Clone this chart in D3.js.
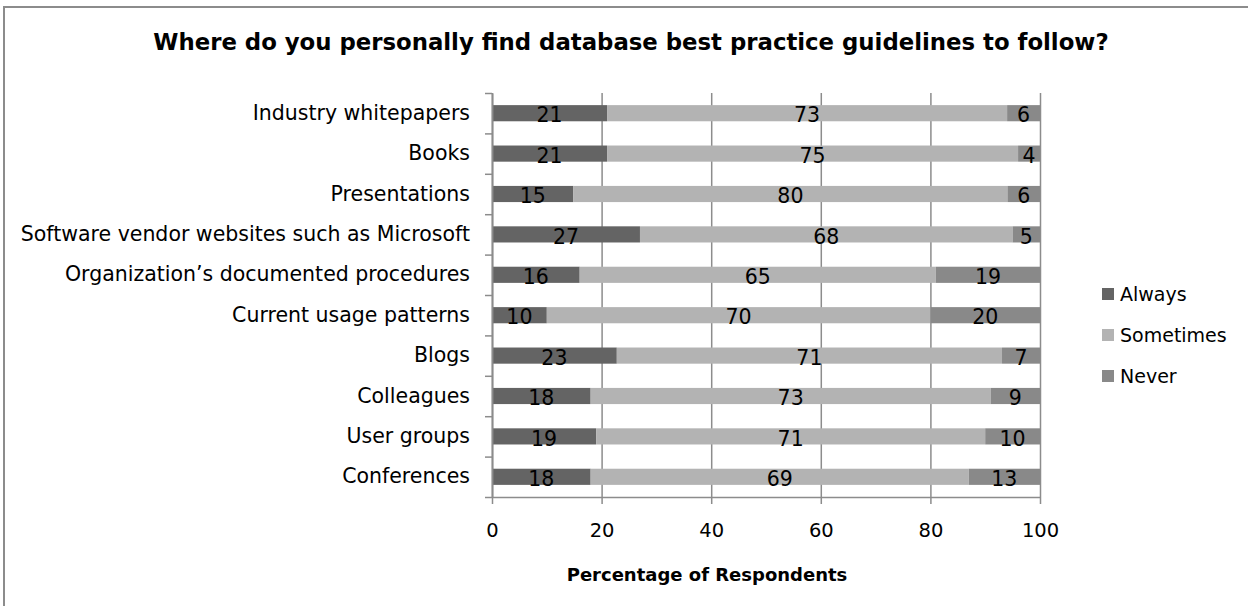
<!DOCTYPE html>
<html>
<head>
<meta charset="utf-8">
<script src="https://cdn.jsdelivr.net/npm/d3@7"></script>
<style>
  body { margin: 0; background: #fff; }
  svg { display: block; }
</style>
</head>
<body>
<svg id="chart"></svg>
<script>
const categories = [
  'Industry whitepapers',
  'Books',
  'Presentations',
  'Software vendor websites such as Microsoft',
  'Organization\u2019s documented procedures',
  'Current usage patterns',
  'Blogs',
  'Colleagues',
  'User groups',
  'Conferences'
];
const always    = [21, 21, 15, 27, 16, 10, 23, 18, 19, 18];
const sometimes = [73, 75, 80, 68, 65, 70, 71, 73, 71, 69];
const never     = [6, 4, 6, 5, 19, 20, 7, 9, 10, 13];
const seriesNames = ['Always', 'Sometimes', 'Never'];
const xTicks = [0, 20, 40, 60, 80, 100];

const colours = ['#646464', '#b3b3b3', '#898989'];
const font = '"DejaVu Sans", sans-serif';

const width = 1248, height = 606;
const plot = {left: 492, right: 1040, top: 93, bottom: 497};

const svg = d3.select('#chart')
  .attr('width', width)
  .attr('height', height);

// outer chart border
svg.append('rect')
  .attr('x', 4).attr('y', 7)
  .attr('width', width + 10).attr('height', height + 10)
  .attr('fill', 'none')
  .attr('stroke', '#8c8c8c')
  .attr('stroke-width', 2);

const rows = categories.map((c, i) => ({
  cat: c, Always: always[i], Sometimes: sometimes[i], Never: never[i]
}));

// 100% stacked, like excel
const stacked = d3.stack().keys(seriesNames).offset(d3.stackOffsetExpand)(rows);

const x = d3.scaleLinear().domain([0, 1]).range([plot.left, plot.right]);
const y = d3.scaleBand().domain(categories).range([plot.top, plot.bottom])
  .paddingInner(0.6).paddingOuter(0.3);
const yEdge = d3.scaleLinear().domain([0, categories.length]).range([plot.top, plot.bottom]);

// gridlines + x axis
svg.append('g')
  .attr('class', 'x axis')
  .attr('transform', 'translate(0,' + plot.bottom + ')')
  .call(d3.axisBottom(x)
    .tickValues(xTicks.map(t => t / 100))
    .tickFormat((d, i) => xTicks[i])
    .tickSizeOuter(0)
    .tickPadding(20));

svg.selectAll('.x.axis .tick line')
  .attr('y1', 7)
  .attr('y2', -(plot.bottom - plot.top));

// bars
const layer = svg.append('g').selectAll('g')
  .data(stacked)
  .enter().append('g')
  .attr('fill', (d, i) => colours[i]);

layer.selectAll('rect')
  .data(d => d)
  .enter().append('rect')
  .attr('x', d => x(d[0]))
  .attr('y', d => y(d.data.cat))
  .attr('width', d => x(d[1]) - x(d[0]))
  .attr('height', y.bandwidth());

// value labels
layer.selectAll('text')
  .data((d, i) => d.map(v => ({v: v, key: seriesNames[i]})))
  .enter().append('text')
  .attr('x', d => (x(d.v[0]) + x(d.v[1])) / 2)
  .attr('y', d => y(d.v.data.cat) + y.bandwidth() / 2)
  .attr('dy', '0.45em')
  .attr('text-anchor', 'middle')
  .attr('fill', '#000')
  .style('font', '20.5px ' + font)
  .text(d => d.v.data[d.key]);

// y axis: labels
svg.append('g')
  .attr('class', 'y axis')
  .attr('transform', 'translate(' + plot.left + ',0)')
  .call(d3.axisLeft(y).tickSize(0).tickPadding(22));

// y axis: category boundary ticks
svg.append('g')
  .attr('class', 'y edges')
  .attr('transform', 'translate(' + plot.left + ',0)')
  .call(d3.axisLeft(yEdge).ticks(categories.length).tickSize(7).tickSizeOuter(0).tickFormat(''));

svg.selectAll('.axis path, .edges path')
  .attr('stroke', '#8c8c8c')
  .attr('stroke-width', 1.5);
svg.selectAll('.tick line')
  .attr('stroke', '#8c8c8c')
  .attr('stroke-width', 1.5);

svg.selectAll('.y.axis text')
  .attr('fill', '#000')
  .style('font', '20.5px ' + font);
svg.selectAll('.x.axis text')
  .attr('fill', '#000')
  .style('font', '19.5px ' + font);

// title
svg.append('text')
  .attr('x', 631).attr('y', 42)
  .attr('dy', '0.35em')
  .attr('text-anchor', 'middle')
  .style('font', 'bold 22.8px ' + font)
  .text('Where do you personally find database best practice guidelines to follow?');

// axis title
svg.append('text')
  .attr('x', 707).attr('y', 575)
  .attr('dy', '0.35em')
  .attr('text-anchor', 'middle')
  .style('font', 'bold 18px ' + font)
  .text('Percentage of Respondents');

// legend
const legend = svg.append('g').selectAll('g')
  .data(seriesNames)
  .enter().append('g')
  .attr('transform', (d, i) => 'translate(1102,' + (294 + i * 41) + ')');

legend.append('rect')
  .attr('x', 0).attr('y', -6)
  .attr('width', 12).attr('height', 12)
  .attr('fill', (d, i) => colours[i]);

legend.append('text')
  .attr('x', 18)
  .attr('dy', '0.35em')
  .style('font', '19px ' + font)
  .text(d => d);
</script>
</body>
</html>
